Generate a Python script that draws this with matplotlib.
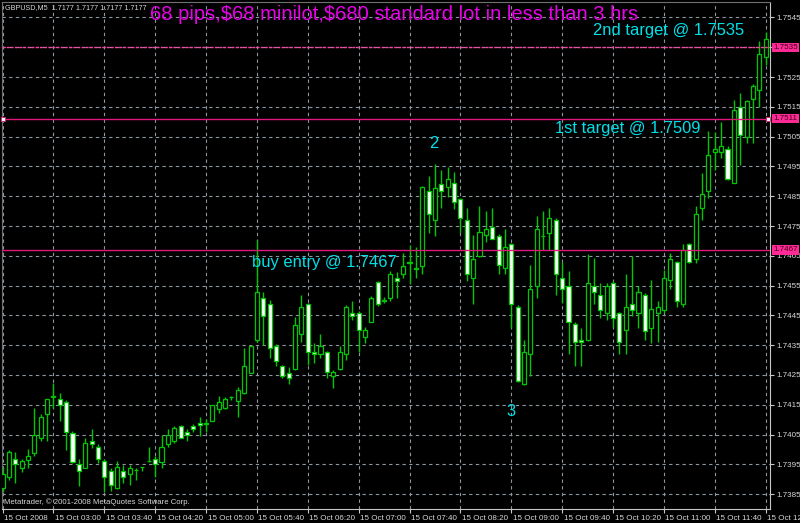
import matplotlib
matplotlib.use("Agg")
import matplotlib.pyplot as plt
import matplotlib.transforms as mtransforms

# GBPUSD M5, 15 Oct 2008, 02:20 .. 12:20 (121 bars)
opens = [
    1.73870, 1.73908, 1.73967, 1.73936, 1.73964, 1.73989, 1.74039, 1.74118, 1.74179, 1.74168,
    1.74160, 1.74056, 1.73950, 1.73938, 1.74029, 1.74007, 1.73961, 1.73927, 1.73869, 1.73927,
    1.73919, 1.73932, 1.73940, 1.73961, 1.73967, 1.73958, 1.74017, 1.74028, 1.74079, 1.74059,
    1.74079, 1.74088, 1.74088, 1.74097, 1.74136, 1.74138, 1.74177, 1.74164, 1.74188, 1.74258,
    1.74367, 1.74509, 1.74487, 1.74348, 1.74280, 1.74257, 1.74269, 1.74389, 1.74487, 1.74328,
    1.74320, 1.74326, 1.74247, 1.74269, 1.74319, 1.74459, 1.74459, 1.74378, 1.74428, 1.74561,
    1.74499, 1.74507, 1.74577, 1.74588, 1.74628, 1.74608, 1.74616, 1.74868, 1.74770, 1.74890,
    1.74880, 1.74896, 1.74839, 1.74770, 1.74577, 1.74649, 1.74719, 1.74747, 1.74717, 1.74608,
    1.74688, 1.74479, 1.74218, 1.74320, 1.74548, 1.74717, 1.74728, 1.74770, 1.74577, 1.74548,
    1.74420, 1.74367, 1.74367, 1.74548, 1.74520, 1.74457, 1.74559, 1.74457, 1.74401, 1.74488,
    1.74457, 1.74520, 1.74406, 1.74457, 1.74468, 1.74568, 1.74628, 1.74487, 1.74689, 1.74638,
    1.74809, 1.74868, 1.74997, 1.74997, 1.75010, 1.74896, 1.75148, 1.75049, 1.75176, 1.75208,
    1.75318]
highs = [
    1.73941, 1.73998, 1.73990, 1.73967, 1.74000, 1.74140, 1.74119, 1.74169, 1.74224, 1.74189,
    1.74166, 1.74061, 1.73967, 1.74038, 1.74068, 1.74018, 1.73967, 1.73936, 1.73961, 1.73949,
    1.73949, 1.73939, 1.73941, 1.74007, 1.73979, 1.74048, 1.74068, 1.74078, 1.74082, 1.74068,
    1.74085, 1.74109, 1.74102, 1.74149, 1.74179, 1.74177, 1.74179, 1.74208, 1.74339, 1.74348,
    1.74703, 1.74527, 1.74501, 1.74354, 1.74283, 1.74277, 1.74443, 1.74518, 1.74491, 1.74356,
    1.74389, 1.74330, 1.74266, 1.74347, 1.74484, 1.74498, 1.74464, 1.74410, 1.74515, 1.74565,
    1.74511, 1.74600, 1.74596, 1.74658, 1.74686, 1.74680, 1.74884, 1.74918, 1.74958, 1.74938,
    1.74947, 1.74930, 1.74844, 1.74809, 1.74719, 1.74818, 1.74800, 1.74809, 1.74723, 1.74739,
    1.74693, 1.74484, 1.74367, 1.74619, 1.74783, 1.74801, 1.74811, 1.74778, 1.74630, 1.74600,
    1.74428, 1.74408, 1.74655, 1.74641, 1.74559, 1.74559, 1.74565, 1.74461, 1.74590, 1.74650,
    1.74548, 1.74525, 1.74568, 1.74498, 1.74604, 1.74658, 1.74632, 1.74689, 1.74693, 1.74817,
    1.74929, 1.75070, 1.75066, 1.75098, 1.75018, 1.75173, 1.75195, 1.75173, 1.75226, 1.75372,
    1.75402]
lows = [
    1.73857, 1.73897, 1.73886, 1.73925, 1.73936, 1.73978, 1.74028, 1.74028, 1.74138, 1.74097,
    1.73998, 1.73954, 1.73877, 1.73936, 1.74006, 1.73953, 1.73858, 1.73860, 1.73868, 1.73887,
    1.73880, 1.73899, 1.73927, 1.73958, 1.73908, 1.73938, 1.74007, 1.74020, 1.74038, 1.74028,
    1.74057, 1.74046, 1.74058, 1.74096, 1.74121, 1.74135, 1.74167, 1.74109, 1.74187, 1.74256,
    1.74361, 1.74350, 1.74308, 1.74280, 1.74239, 1.74219, 1.74268, 1.74361, 1.74283, 1.74289,
    1.74308, 1.74240, 1.74205, 1.74266, 1.74300, 1.74434, 1.74328, 1.74356, 1.74427, 1.74481,
    1.74491, 1.74499, 1.74507, 1.74576, 1.74557, 1.74576, 1.74588, 1.74728, 1.74716, 1.74809,
    1.74848, 1.74807, 1.74728, 1.74566, 1.74487, 1.74647, 1.74697, 1.74706, 1.74588, 1.74588,
    1.74406, 1.74226, 1.74217, 1.74247, 1.74507, 1.74669, 1.74669, 1.74518, 1.74490, 1.74319,
    1.74280, 1.74280, 1.74365, 1.74487, 1.74440, 1.74436, 1.74412, 1.74319, 1.74319, 1.74448,
    1.74408, 1.74367, 1.74358, 1.74359, 1.74457, 1.74537, 1.74479, 1.74479, 1.74625, 1.74626,
    1.74770, 1.74844, 1.74938, 1.74977, 1.74906, 1.74895, 1.74954, 1.75027, 1.75027, 1.75148,
    1.75290]
closes = [
    1.73917, 1.73990, 1.73950, 1.73961, 1.73979, 1.74048, 1.74109, 1.74168, 1.74177, 1.74149,
    1.74057, 1.73958, 1.73927, 1.74020, 1.74018, 1.73967, 1.73908, 1.73880, 1.73940, 1.73908,
    1.73938, 1.73931, 1.73940, 1.73960, 1.73950, 1.74007, 1.74048, 1.74071, 1.74039, 1.74048,
    1.74068, 1.74081, 1.74086, 1.74149, 1.74160, 1.74168, 1.74177, 1.74201, 1.74280, 1.74348,
    1.74527, 1.74448, 1.74339, 1.74297, 1.74247, 1.74240, 1.74417, 1.74479, 1.74328, 1.74320,
    1.74348, 1.74261, 1.74259, 1.74328, 1.74479, 1.74448, 1.74401, 1.74401, 1.74509, 1.74488,
    1.74500, 1.74588, 1.74566, 1.74616, 1.74626, 1.74606, 1.74880, 1.74789, 1.74878, 1.74868,
    1.74907, 1.74829, 1.74778, 1.74589, 1.74639, 1.74731, 1.74739, 1.74708, 1.74619, 1.74678,
    1.74487, 1.74229, 1.74328, 1.74537, 1.74739, 1.74716, 1.74778, 1.74589, 1.74537, 1.74428,
    1.74359, 1.74359, 1.74559, 1.74527, 1.74468, 1.74548, 1.74440, 1.74359, 1.74479, 1.74468,
    1.74527, 1.74398, 1.74470, 1.74479, 1.74577, 1.74639, 1.74498, 1.74669, 1.74628, 1.74790,
    1.74857, 1.74988, 1.75010, 1.75018, 1.74907, 1.75139, 1.75057, 1.75169, 1.75220, 1.75329,
    1.75377]

time_labels = ["15 Oct 2008", "15 Oct 03:00", "15 Oct 03:40", "15 Oct 04:20",
               "15 Oct 05:00", "15 Oct 05:40", "15 Oct 06:20", "15 Oct 07:00",
               "15 Oct 07:40", "15 Oct 08:20", "15 Oct 09:00", "15 Oct 09:40",
               "15 Oct 10:20", "15 Oct 11:00", "15 Oct 11:40", "15 Oct 12:20"]
price_ticks = [1.7385, 1.7395, 1.7405, 1.7415, 1.7425, 1.7435, 1.7445, 1.7455,
               1.7465, 1.7475, 1.7485, 1.7495, 1.7505, 1.7515, 1.7525, 1.7535, 1.7545]
hlines = [1.7535, 1.7511, 1.7467]

GREEN = "#00c800"
PINK = "#e0187c"
GRID = "#8e96a0"
TXT = "#d8d8d8"
CYAN = "#00e0e8"
SMALL = "Liberation Sans"

fig = plt.figure(figsize=(8, 5.23), dpi=100, facecolor="black")
ax = fig.add_axes([2 / 800, 14 / 523, 768 / 800, 507 / 523], facecolor="black")

n = len(opens)
xs = list(range(n))
ax.set_xlim(-0.08, 120.68)
ax.set_ylim(1.73800, 1.75502)

# grid
for t in price_ticks:
    ax.axhline(t, color=GRID, lw=0.8, ls=(0, (3, 3)), zorder=1)
for i in range(0, n, 8):
    ax.axvline(i, color=GRID, lw=0.8, ls=(0, (3, 3)), zorder=1)

# candles
ax.vlines(xs, lows, highs, color=GREEN, lw=1.0, zorder=2)
bodies = [c - o for o, c in zip(opens, closes)]
faces = ["black" if c > o else "white" for o, c in zip(opens, closes)]
ax.bar(xs, bodies, bottom=opens, width=0.64, color=faces, edgecolor=GREEN,
       linewidth=0.9, zorder=3)

# horizontal lines
ax.axhline(hlines[0], color="#ff3fa0", lw=1.0, ls=(0, (2, 1)), zorder=4)
ax.axhline(hlines[1], color=PINK, lw=1.0, zorder=4)
ax.axhline(hlines[2], color=PINK, lw=1.0, zorder=4)
ax.plot([0.05, 120.3], [hlines[1], hlines[1]], ls="none", marker="s", ms=3,
        mfc="white", mec=PINK, mew=0.6, zorder=5, clip_on=False)

# axes styling
for side in ["top", "left"]:
    ax.spines[side].set_color("#707070")
for side in ["right", "bottom"]:
    ax.spines[side].set_color("#c8c8c8")
ax.yaxis.tick_right()
ax.set_yticks(price_ticks)
ax.set_yticklabels(["" if abs(t - 1.7535) < 1e-6 else "%.4f" % t for t in price_ticks],
                   family=SMALL)
ax.set_xticks(list(range(0, n, 8)))
ax.set_xticklabels(time_labels, ha="left", family=SMALL)
ax.tick_params(axis="both", colors="#c8c8c8", labelcolor=TXT, labelsize=5.8,
               length=3, width=0.8, pad=1.5)
offset = mtransforms.ScaledTranslation(1.5 / 100, 0, fig.dpi_scale_trans)
for lab in ax.get_xticklabels():
    lab.set_transform(lab.get_transform() + offset)

# price boxes on the right axis
tr = mtransforms.blended_transform_factory(ax.transAxes, ax.transData)
for v in hlines:
    ax.text(1.0045, v, "%.4f" % v, transform=tr, ha="left", va="center",
            fontsize=5.8, family=SMALL, color="#400018", clip_on=False, zorder=6,
            bbox=dict(boxstyle="square,pad=0.15", fc="#ff2a96", ec="none"))

# texts
fig.text(5 / 800, 1 - 8 / 523, "GBPUSD,M5  1.7177 1.7177 1.7177 1.7177",
         color=TXT, fontsize=5.2, family=SMALL, va="center", ha="left")
fig.text(150 / 800, 1 - 15 / 523,
         r"68 pips,\$68 minilot,\$680 standard lot in less than 3 hrs",
         color="#e800e8", fontsize=14.5, family="Liberation Sans", va="center", ha="left")
fig.text(593 / 800, 1 - 30 / 523, "2nd target @ 1.7535", color=CYAN,
         fontsize=11.9, family="Liberation Sans", va="center", ha="left")
fig.text(555 / 800, 1 - 128 / 523, "1st target @ 1.7509", color=CYAN,
         fontsize=11.9, family="Liberation Sans", va="center", ha="left")
fig.text(252 / 800, 1 - 263 / 523, "buy entry @ 1.7467", color=CYAN,
         fontsize=11.9, family="Liberation Sans", va="center", ha="left")
fig.text(434 / 800, 1 - 143 / 523, "2", color=CYAN,
         fontsize=11.9, family="Liberation Sans", va="center", ha="center")
fig.text(511 / 800, 1 - 411 / 523, "3", color=CYAN,
         fontsize=11.9, family="Liberation Sans", va="center", ha="center")
fig.text(4 / 800, 1 - 502 / 523, "Metatrader, © 2001-2008 MetaQuotes Software Corp.",
         color=TXT, fontsize=5.6, family=SMALL, va="center", ha="left")

fig.savefig("out.png", dpi=100, facecolor="black")
